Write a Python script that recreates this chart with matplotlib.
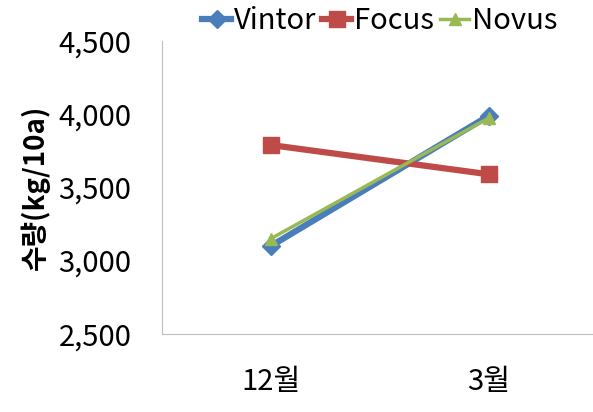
import matplotlib.pyplot as plt

plt.rcParams['font.family'] = ['Noto Sans CJK KR', 'DejaVu Sans']

months = ['12월', '3월']
vintor = [3100, 3990]
focus = [3790, 3590]
novus = [3150, 3975]

fig = plt.figure(figsize=(5.93, 4.12), dpi=100)
ax = fig.add_axes([0.273, 0.19, 0.735, 0.71])

x = range(len(months))
ax.plot(x, vintor, color='#4A7EBB', lw=4.5, marker='D', ms=9, label='Vintor')
ax.plot(x, focus, color='#BE4B48', lw=4.5, marker='s', ms=12, label='Focus')
ax.plot(x, novus, color='#98B954', lw=2.5, marker='^', ms=8, label='Novus')

ax.set_xlim(-0.5, 1.5)
ax.set_ylim(2500, 4500)
ax.set_yticks([2500, 3000, 3500, 4000, 4500])
ax.set_yticklabels(['{:,}'.format(v) for v in [2500, 3000, 3500, 4000, 4500]])
ax.set_xticks(list(x))
ax.set_xticklabels(months)
ax.tick_params(axis='both', labelsize=21, length=0)
ax.tick_params(axis='y', pad=22)
ax.tick_params(axis='x', pad=24)
for s in ['top', 'right']:
    ax.spines[s].set_visible(False)
for s in ['left', 'bottom']:
    ax.spines[s].set_color('#BFBFBF')
ax.set_ylabel('수량(kg/10a)', fontsize=20, fontweight='bold', labelpad=6)

ax.legend(loc='upper center', bbox_to_anchor=(0.5, 1.21), ncol=3, frameon=False,
          fontsize=21, handlelength=1.0, handletextpad=0.1, columnspacing=0.2)

plt.savefig('out.png')
